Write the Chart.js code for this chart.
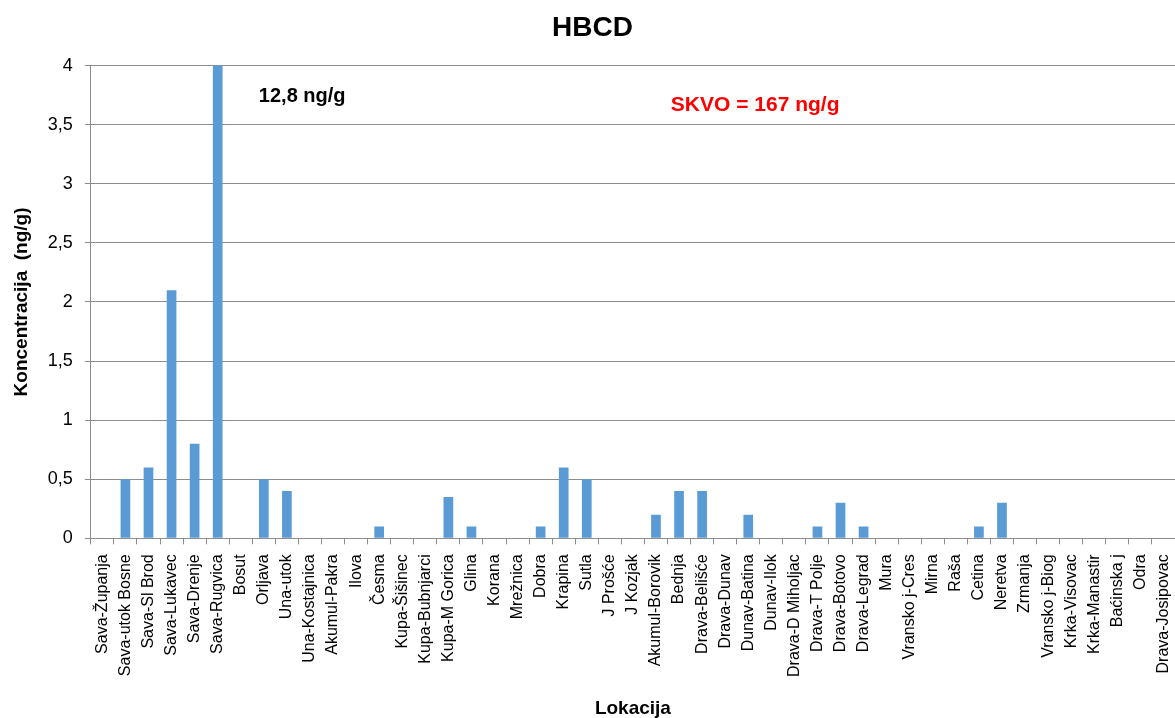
<!DOCTYPE html>
<html>
<head>
<meta charset="utf-8">
<script src="https://cdn.jsdelivr.net/npm/chart.js@4/dist/chart.umd.min.js"></script>
<style>
    html, body { margin: 0; padding: 0; background: #ffffff; }
    #wrap { width: 1175px; height: 718px; }
</style>
</head>
<body>
<div id="wrap"><canvas id="hbcdChart"></canvas></div>
<script>
const locations = [
    "Sava-Županja", "Sava-utok Bosne", "Sava-Sl Brod", "Sava-Lukavec", "Sava-Drenje",
    "Sava-Rugvica", "Bosut", "Orljava", "Una-utok", "Una-Kostajnica",
    "Akumul-Pakra", "Ilova", "Česma", "Kupa-Šišinec", "Kupa-Bubnjarci",
    "Kupa-M Gorica", "Glina", "Korana", "Mrežnica", "Dobra",
    "Krapina", "Sutla", "J Prošće", "J Kozjak", "Akumul-Borovik",
    "Bednja", "Drava-Belišće", "Drava-Dunav", "Dunav-Batina", "Dunav-Ilok",
    "Drava-D Miholjac", "Drava-T Polje", "Drava-Botovo", "Drava-Legrad", "Mura",
    "Vransko j-Cres", "Mirna", "Raša", "Cetina", "Neretva",
    "Zrmanja", "Vransko j-Biog", "Krka-Visovac", "Krka-Manastir", "Baćinska j",
    "Odra", "Drava-Josipovac"
];

// ng/g, Sava-Rugvica runs off the top of the axis (12,8)
const hbcdValues = [
    0, 0.5, 0.6, 2.1, 0.8,
    12.8, 0, 0.5, 0.4, 0,
    0, 0, 0.1, 0, 0,
    0.35, 0.1, 0, 0, 0.1,
    0.6, 0.5, 0, 0, 0.2,
    0.4, 0.4, 0, 0.2, 0,
    0, 0.1, 0.3, 0.1, 0,
    0, 0, 0, 0.1, 0.3,
    0, 0, 0, 0, 0,
    0, 0
];

const yTicks = [0, 0.5, 1, 1.5, 2, 2.5, 3, 3.5, 4];

const FONT = "'Liberation Sans', Arial, sans-serif";
const GRID_COLOR = "#8c8c8c";
const BAR_COLOR = "#5b9bd5";

// notes written inside the plot
const notesPlugin = {
    id: "notes",
    afterDraw: function (chart) {
        let ctx = chart.ctx;
        let area = chart.chartArea;
        ctx.save();
        ctx.textBaseline = "middle";
        ctx.textAlign = "left";
        ctx.font = "bold 20px " + FONT;
        ctx.fillStyle = "#000000";
        ctx.fillText("12,8 ng/g", area.left + 168, area.top + 31);
        ctx.font = "bold 21px " + FONT;
        ctx.fillStyle = "#ff0000";
        ctx.fillText("SKVO = 167 ng/g", area.left + 580, area.top + 40);
        ctx.restore();
    }
};

let chartCanvas = document.getElementById("hbcdChart");
let hbcdChart = new Chart(chartCanvas, {
    type: "bar",
    data: {
        labels: locations,
        datasets: [{
            label: "HBCD",
            data: hbcdValues,
            backgroundColor: BAR_COLOR,
            borderWidth: 0,
            barPercentage: 0.42,
            categoryPercentage: 1.0,
        }],
    },
    options: {
        responsive: true,
        maintainAspectRatio: false,
        animation: false,
        layout: {
            padding: { left: 10, right: 0, top: 0, bottom: 0 },
        },
        plugins: {
            legend: { display: false },
            tooltip: { enabled: false },
            title: {
                display: true,
                text: "HBCD",
                color: "#000000",
                font: { family: FONT, size: 28, weight: "bold" },
                padding: { top: 11, bottom: 21 },
            },
        },
        scales: {
            x: {
                // the plot runs right up to the canvas edges, like the original
                afterFit: function (scale) {
                    scale.paddingLeft = 0;
                    scale.paddingRight = 0;
                },
                grid: {
                    offset: true,
                    drawOnChartArea: false,
                    color: GRID_COLOR,
                    tickLength: 6,
                },
                border: { color: GRID_COLOR, width: 1 },
                ticks: {
                    color: "#000000",
                    font: { family: FONT, size: 16 },
                    autoSkip: false,
                    maxRotation: 90,
                    minRotation: 90,
                    padding: 10,
                },
                title: {
                    display: true,
                    text: "Lokacija",
                    color: "#000000",
                    font: { family: FONT, size: 19, weight: "bold", lineHeight: 1 },
                    padding: { top: 12, bottom: 0 },
                },
            },
            y: {
                min: 0,
                max: 4,
                afterBuildTicks: function (scale) {
                    scale.ticks = yTicks.map(function (v) { return { value: v }; });
                },
                grid: {
                    color: GRID_COLOR,
                    lineWidth: 1,
                    tickLength: 6,
                },
                border: { color: GRID_COLOR, width: 1 },
                ticks: {
                    color: "#000000",
                    font: { family: FONT, size: 18 },
                    padding: 12,
                    callback: function (value) {
                        return String(value).replace(".", ",");
                    },
                },
                title: {
                    display: true,
                    text: "Koncentracija  (ng/g)",
                    color: "#000000",
                    font: { family: FONT, size: 19, weight: "bold" },
                    padding: { top: 0, bottom: 3 },
                },
            },
        },
    },
    plugins: [notesPlugin],
});
</script>
</body>
</html>
